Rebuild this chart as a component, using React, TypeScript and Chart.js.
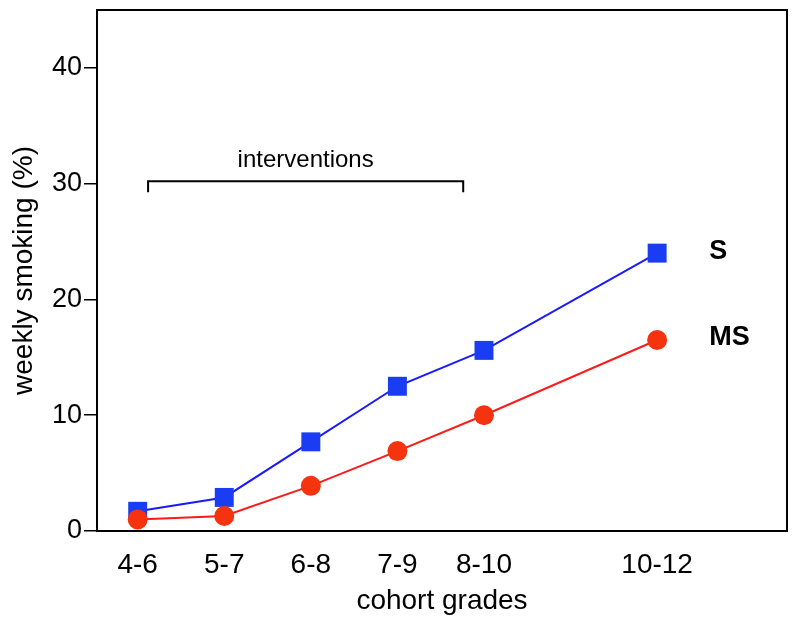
import React, { useEffect, useRef } from "react";
import { Chart, registerables } from "chart.js";

Chart.register(...registerables);

const cohortPositions = [4, 5, 6, 7, 8, 10];
const cohortLabels = ["4-6", "5-7", "6-8", "7-9", "8-10", "10-12"];
const seriesS = [1.7, 2.9, 7.7, 12.5, 15.6, 24.0];
const seriesMS = [1.0, 1.3, 3.9, 6.9, 10.0, 16.5];
const yTicks = [0, 10, 20, 30, 40];
const interventionStart = 4.12;
const interventionEnd = 7.76;
const interventionLevel = 30.2;
const interventionLabel = "interventions";

const FONT = "'Liberation Sans', Arial, Helvetica, sans-serif";

const framePlugin = {
  id: "frame",
  afterDraw(chart: any) {
    const { ctx, chartArea, scales } = chart;
    const x = scales.x;
    const y = scales.y;
    ctx.save();
    ctx.strokeStyle = "#000";
    ctx.lineWidth = 2;
    ctx.strokeRect(chartArea.left, chartArea.top, chartArea.right - chartArea.left, chartArea.bottom - chartArea.top);

    // interventions bracket
    const x1 = x.getPixelForValue(interventionStart);
    const x2 = x.getPixelForValue(interventionEnd);
    const yb = y.getPixelForValue(interventionLevel);
    ctx.lineWidth = 2;
    ctx.beginPath();
    ctx.moveTo(x1, yb + 11);
    ctx.lineTo(x1, yb);
    ctx.lineTo(x2, yb);
    ctx.lineTo(x2, yb + 11);
    ctx.stroke();
    ctx.fillStyle = "#000";
    ctx.font = `24px ${FONT}`;
    ctx.textAlign = "center";
    ctx.textBaseline = "middle";
    ctx.fillText(interventionLabel, (x1 + x2) / 2, yb - 21);

    // series labels
    ctx.font = `bold 27px ${FONT}`;
    ctx.textAlign = "left";
    const lastX = x.getPixelForValue(cohortPositions[cohortPositions.length - 1]);
    ctx.fillText("S", lastX + 52, y.getPixelForValue(seriesS[seriesS.length - 1]) - 2);
    ctx.fillText("MS", lastX + 52, y.getPixelForValue(seriesMS[seriesMS.length - 1]) - 2);
    ctx.restore();
  },
};

export default function App() {
  const ref = useRef<HTMLCanvasElement | null>(null);

  useEffect(() => {
    document.body.style.margin = "0";
    const canvas = ref.current;
    if (!canvas) return;
    const chart = new Chart(canvas, {
      type: "line",
      data: {
        datasets: [
          {
            label: "MS",
            data: cohortPositions.map((v, i) => ({ x: v, y: seriesMS[i] })),
            borderColor: "#ff1a1a",
            backgroundColor: "#f5330f",
            borderWidth: 2,
            pointStyle: "circle",
            pointRadius: 10,
            pointBorderWidth: 0,
            pointBackgroundColor: "#f5330f",
            order: 0,
          },
          {
            label: "S",
            data: cohortPositions.map((v, i) => ({ x: v, y: seriesS[i] })),
            borderColor: "#1a1aff",
            backgroundColor: "#1a3cf2",
            borderWidth: 2,
            pointStyle: "rect",
            pointRadius: 13.4,
            pointBorderWidth: 0,
            pointBackgroundColor: "#1a3cf2",
            order: 1,
          },
        ],
      },
      options: {
        animation: false,
        responsive: false,
        layout: { autoPadding: false, padding: { top: 10, right: 13, left: 0, bottom: 0 } },
        plugins: {
          legend: { display: false },
          tooltip: { enabled: false },
        },
        scales: {
          x: {
            type: "linear",
            min: 3.53,
            max: 11.5,
            afterBuildTicks: (axis: any) => {
              axis.ticks = cohortPositions.map((v) => ({ value: v }));
            },
            afterFit: (scale: any) => {
              scale.height = 91;
              scale.paddingLeft = 0;
              scale.paddingRight = 0;
            },
            grid: { display: false },
            border: { display: false },
            ticks: {
              autoSkip: false,
              maxRotation: 0,
              padding: 9,
              color: "#000",
              font: { family: FONT, size: 28 },
              callback: (value: any) => {
                const i = cohortPositions.indexOf(Number(value));
                return i >= 0 ? cohortLabels[i] : "";
              },
            },
            title: {
              display: true,
              text: "cohort grades",
              color: "#000",
              font: { family: FONT, size: 28 },
              padding: { top: 0, bottom: 4 },
            },
          },
          y: {
            type: "linear",
            min: 0,
            max: 45,
            afterBuildTicks: (axis: any) => {
              axis.ticks = yTicks.map((v) => ({ value: v }));
            },
            afterFit: (scale: any) => {
              scale.width = 97;
              scale.paddingTop = 0;
              scale.paddingBottom = 0;
            },
            grid: {
              display: true,
              drawOnChartArea: false,
              drawTicks: true,
              tickLength: 13,
              color: "#000",
              lineWidth: 1.5,
            },
            border: { display: false },
            ticks: {
              padding: 2,
              color: "#000",
              font: { family: FONT, size: 27 },
            },
            title: {
              display: true,
              text: "weekly smoking (%)",
              color: "#000",
              font: { family: FONT, size: 28 },
              padding: { top: 7, bottom: 0 },
            },
          },
        },
      },
      plugins: [framePlugin],
    } as any);
    return () => chart.destroy();
  }, []);

  return (
    <div style={{ width: 800, height: 622 }}>
      <canvas ref={ref} width={800} height={622} />
    </div>
  );
}
